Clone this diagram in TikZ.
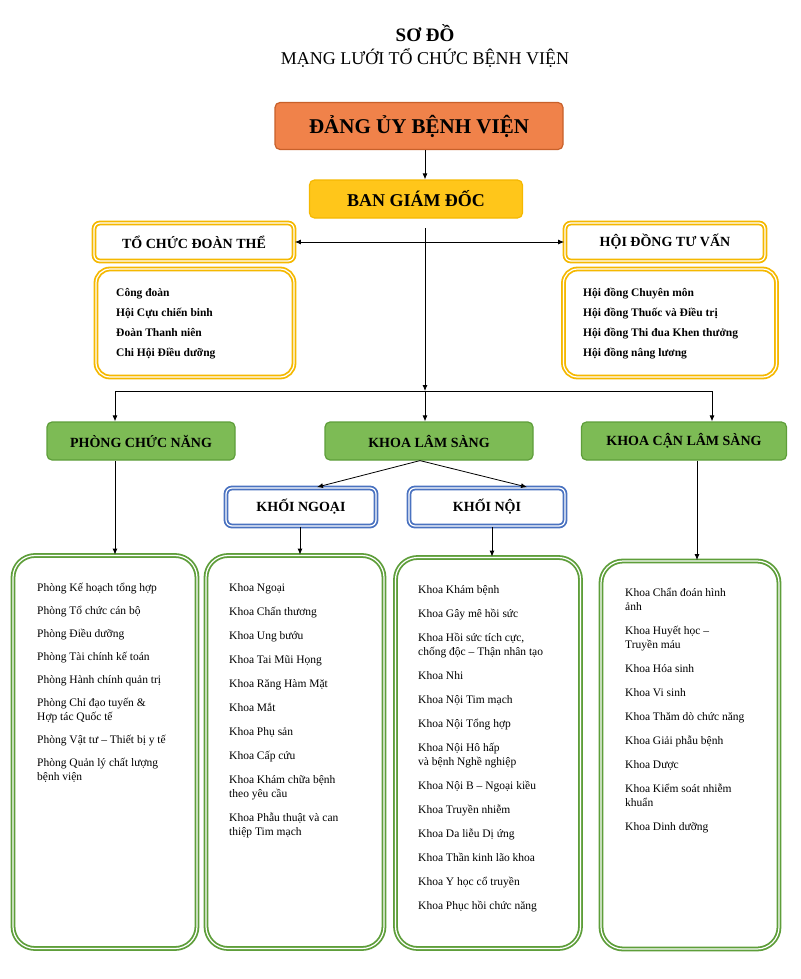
\documentclass[tikz,border=0pt]{standalone}
\usepackage{fontspec}
\setmainfont{Liberation Serif}
\usetikzlibrary{arrows.meta}
\definecolor{orgfill}{HTML}{F0824A}
\definecolor{orgline}{HTML}{C8602A}
\definecolor{yelfill}{HTML}{FFC61A}
\definecolor{yelline}{HTML}{F5B800}
\definecolor{grnfill}{HTML}{7DBB55}
\definecolor{grnline}{HTML}{5E9E3A}
\definecolor{bluline}{HTML}{4A72C0}
\tikzset{
  arr/.style={-{Latex[length=6pt,width=5pt]}, line width=0.8pt},
  solid box/.style={rounded corners=5pt, line width=1.2pt, font=\bfseries},
  dbl box/.style={rounded corners=6pt, draw=#1, double=white, line width=1.8pt, double distance=1.2pt, fill=white},
  list/.style={anchor=north west, align=left, font=\fontsize{11.5}{14}\selectfont, inner sep=0pt},
}
\begin{document}
\begin{tikzpicture}[x=1pt,y=-1pt]
  \useasboundingbox (0,0) rectangle (800,979);
  % titles
  \node (t1) at (425,33) {\fontsize{19}{21}\selectfont\bfseries SƠ ĐỒ};
  \node (t2) at (425,58) {\fontsize{18}{20}\selectfont MẠNG LƯỚI TỔ CHỨC BỆNH VIỆN};
  % top
  \node[solid box, draw=orgline, fill=orgfill, minimum width=288pt, minimum height=47pt,
        font=\fontsize{21}{23}\selectfont\bfseries] (dang) at (419,126) {ĐẢNG ỦY BỆNH VIỆN};
  \node[solid box, draw=yelline, fill=yelfill, minimum width=213pt, minimum height=38pt,
        font=\fontsize{18}{20}\selectfont\bfseries] (bgd) at (416,199) {BAN GIÁM ĐỐC};
  \node[dbl box=yelline, minimum width=200pt, minimum height=38pt,
        font=\fontsize{14}{16}\selectfont\bfseries] (tcdt) at (194,242) {TỔ CHỨC ĐOÀN THỂ};
  \node[dbl box=yelline, minimum width=200pt, minimum height=38pt,
        font=\fontsize{14}{16}\selectfont\bfseries] (hdtv) at (665,242) {HỘI ĐỒNG TƯ VẤN};
  \node[dbl box=yelline, rounded corners=14pt, minimum width=198pt, minimum height=108pt] (tcl) at (195,323) {};
  \node[dbl box=yelline, rounded corners=14pt, minimum width=213pt, minimum height=108pt] (hdl) at (670,323) {};
  \node[list, font=\fontsize{11.5}{20}\selectfont\bfseries] (tct) at (116,288)
    {Công đoàn\\Hội Cựu chiến binh\\Đoàn Thanh niên\\Chi Hội Điều dưỡng};
  \node[list, font=\fontsize{11.5}{20}\selectfont\bfseries] (hdt) at (583,288)
    {Hội đồng Chuyên môn\\Hội đồng Thuốc và Điều trị\\Hội đồng Thi đua Khen thưởng\\Hội đồng nâng lương};
  % green level
  \node[solid box, draw=grnline, fill=grnfill, minimum width=188pt, minimum height=38pt,
        font=\fontsize{14}{16}\selectfont\bfseries] (pcn) at (141,441) {PHÒNG CHỨC NĂNG};
  \node[solid box, draw=grnline, fill=grnfill, minimum width=208pt, minimum height=38pt,
        font=\fontsize{14}{16}\selectfont\bfseries] (kls) at (429,441) {KHOA LÂM SÀNG};
  \node[solid box, draw=grnline, fill=grnfill, minimum width=205pt, minimum height=38pt,
        font=\fontsize{14}{16}\selectfont\bfseries] (kcls) at (684,441) {KHOA CẬN LÂM SÀNG};
  \node[dbl box=bluline, minimum width=150pt, minimum height=38pt,
        font=\fontsize{14}{16}\selectfont\bfseries] (kn) at (301,507) {KHỐI NGOẠI};
  \node[dbl box=bluline, minimum width=156pt, minimum height=38pt,
        font=\fontsize{14}{16}\selectfont\bfseries] (knoi) at (487,507) {KHỐI NỘI};
  % big boxes
  \node[dbl box=grnline, rounded corners=22pt, minimum width=184pt, minimum height=393pt] (b1) at (105,752) {};
  \node[dbl box=grnline, rounded corners=22pt, minimum width=178pt, minimum height=393pt] (b2) at (295,752) {};
  \node[dbl box=grnline, rounded corners=22pt, minimum width=185pt, minimum height=391pt] (b3) at (488,753) {};
  \node[dbl box=grnline, rounded corners=22pt, minimum width=178pt, minimum height=388pt] (b4) at (690,755) {};
  \node[list] (l1) at (37,583) {Phòng Kế hoạch tổng hợp\\[9pt]Phòng Tổ chức cán bộ\\[9pt]Phòng Điều dưỡng\\[9pt]Phòng Tài chính kế toán\\[9pt]Phòng Hành chính quản trị\\[9pt]Phòng Chỉ đạo tuyến \&\\Hợp tác Quốc tế\\[9pt]Phòng Vật tư – Thiết bị y tế\\[9pt]Phòng Quản lý chất lượng\\bệnh viện};
  \node[list] (l2) at (229,583) {Khoa Ngoại\\[10pt]Khoa Chấn thương\\[10pt]Khoa Ung bướu\\[10pt]Khoa Tai Mũi Họng\\[10pt]Khoa Răng Hàm Mặt\\[10pt]Khoa Mắt\\[10pt]Khoa Phụ sản\\[10pt]Khoa Cấp cứu\\[10pt]Khoa Khám chữa bệnh\\theo yêu cầu\\[10pt]Khoa Phẫu thuật và can\\thiệp Tim mạch};
  \node[list] (l3) at (418,585) {Khoa Khám bệnh\\[10pt]Khoa Gây mê hồi sức\\[10pt]Khoa Hồi sức tích cực,\\chống độc – Thận nhân tạo\\[10pt]Khoa Nhi\\[10pt]Khoa Nội Tim mạch\\[10pt]Khoa Nội Tổng hợp\\[10pt]Khoa Nội Hô hấp\\và bệnh Nghề nghiệp\\[10pt]Khoa Nội B – Ngoại kiều\\[10pt]Khoa Truyền nhiễm\\[10pt]Khoa Da liễu Dị ứng\\[10pt]Khoa Thần kinh lão khoa\\[10pt]Khoa Y học cổ truyền\\[10pt]Khoa Phục hồi chức năng};
  \node[list] (l4) at (625,588) {Khoa Chẩn đoán hình\\ảnh\\[10pt]Khoa Huyết học –\\Truyền máu\\[10pt]Khoa Hóa sinh\\[10pt]Khoa Vi sinh\\[10pt]Khoa Thăm dò chức năng\\[10pt]Khoa Giải phẫu bệnh\\[10pt]Khoa Dược\\[10pt]Khoa Kiểm soát nhiễm\\khuẩn\\[10pt]Khoa Dinh dưỡng};
  % connectors
  \coordinate (hub) at (425,391);
  \coordinate (bgdb) at (425,228);
  \coordinate (hl) at (115,391);
  \coordinate (hr) at (712,391);
  \draw[arr] (dang.south -| 425,0) -- (bgd.north -| 425,0);
  \draw[arr] (bgdb) -- (hub);
  \draw[arr] (425,242) -- (tcdt.east);
  \draw[arr] (425,242) -- (hdtv.west);
  \draw[line width=0.8pt] (hl) -- (hr);
  \draw[arr] (hl) -- (pcn.north -| hl);
  \draw[arr] (hub) -- (kls.north -| hub);
  \draw[arr] (hr) -- (kcls.north -| hr);
  \draw[arr] (kls.south -| 420,0) -- (kn.north -| 317,0);
  \draw[arr] (kls.south -| 420,0) -- (knoi.north -| 527,0);
  \draw[arr] (pcn.south -| 115,0) -- (b1.north -| 115,0);
  \draw[arr] (kn.south -| 300,0) -- (b2.north -| 300,0);
  \draw[arr] (knoi.south -| 492,0) -- (b3.north -| 492,0);
  \draw[arr] (kcls.south -| 697,0) -- (b4.north -| 697,0);
\end{tikzpicture}
\end{document}
